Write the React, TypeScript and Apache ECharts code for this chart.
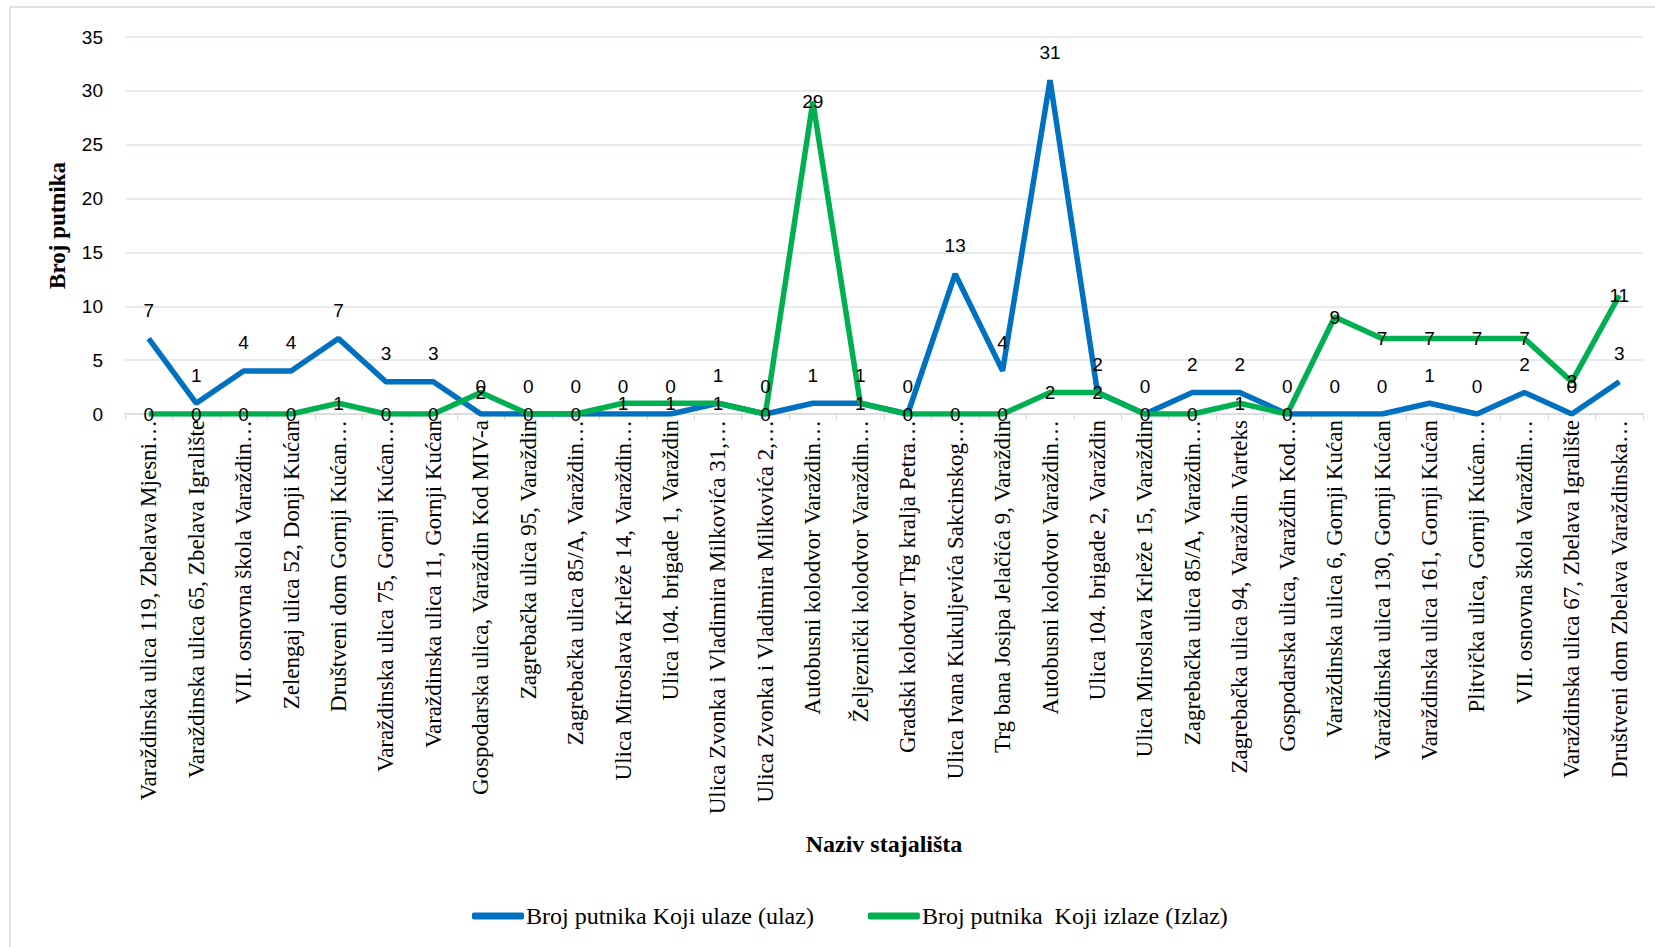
import React, { useEffect, useRef } from "react";
import * as echarts from "echarts";

const categories = [
  "Varaždinska ulica 119, Zbelava Mjesni…",
  "Varaždinska ulica 65, Zbelava Igralište",
  "VII. osnovna škola Varaždin…",
  "Zelengaj ulica 52, Donji Kućan",
  "Društveni dom Gornji Kućan…",
  "Varaždinska ulica 75, Gornji Kućan…",
  "Varaždinska ulica 11, Gornji Kućan",
  "Gospodarska ulica, Varaždin Kod MIV-a",
  "Zagrebačka ulica 95, Varaždin",
  "Zagrebačka ulica 85/A, Varaždin…",
  "Ulica Miroslava Krleže 14, Varaždin…",
  "Ulica 104. brigade 1, Varaždin",
  "Ulica Zvonka i Vladimira Milkovića 31,…",
  "Ulica Zvonka i Vladimira Milkovića 2,…",
  "Autobusni kolodvor Varaždin…",
  "Željeznički kolodvor Varaždin…",
  "Gradski kolodvor Trg kralja Petra…",
  "Ulica Ivana Kukuljevića Sakcinskog…",
  "Trg bana Josipa Jelačića 9, Varaždin",
  "Autobusni kolodvor Varaždin…",
  "Ulica 104. brigade 2, Varaždin",
  "Ulica Miroslava Krleže 15, Varaždin",
  "Zagrebačka ulica 85/A, Varaždin…",
  "Zagrebačka ulica 94, Varaždin Varteks",
  "Gospodarska ulica, Varaždin Kod…",
  "Varaždinska ulica 6, Gornji Kućan",
  "Varaždinska ulica 130, Gornji Kućan",
  "Varaždinska ulica 161, Gornji Kućan",
  "Plitvička ulica, Gornji Kućan…",
  "VII. osnovna škola Varaždin…",
  "Varaždinska ulica 67, Zbelava Igralište",
  "Društveni dom Zbelava Varaždinska…",
];

const ulaz = [7, 1, 4, 4, 7, 3, 3, 0, 0, 0, 0, 0, 1, 0, 1, 1, 0, 13, 4, 31, 2, 0, 2, 2, 0, 0, 0, 1, 0, 2, 0, 3];
const izlaz = [0, 0, 0, 0, 1, 0, 0, 2, 0, 0, 1, 1, 1, 0, 29, 1, 0, 0, 0, 2, 2, 0, 0, 1, 0, 9, 7, 7, 7, 7, 3, 11];

const seriesNames = ["Broj putnika Koji ulaze (ulaz)", "Broj putnika  Koji izlaze (Izlaz)"];
const yTitle = "Broj putnika";
const xTitle = "Naziv stajališta";

const SERIF = "'Liberation Serif', serif";
const SANS = "'Liberation Sans', sans-serif";

export default function App() {
  const ref = useRef<HTMLDivElement>(null);
  useEffect(() => {
    document.body.style.margin = "0";
    const chart = echarts.init(ref.current!, null, { renderer: "svg" });
    chart.setOption({
      animation: false,
      backgroundColor: "#fff",
      graphic: [
        {
          type: "rect",
          z: -10,
          shape: { x: 10, y: 7, width: 1700, height: 1000 },
          style: { fill: "none", stroke: "#d9d9d9", lineWidth: 1.5 },
        },
      ],
      grid: { left: 125, right: 12, top: 37, bottom: 533, containLabel: false },
      legend: {
        left: 467,
        top: 899,
        itemWidth: 52,
        itemHeight: 7,
        icon: "roundRect",
        itemGap: 54,
        textStyle: { fontFamily: SERIF, fontSize: 24, color: "#000", padding: [0, 0, 0, -3] },
        data: seriesNames,
      },
      xAxis: {
        type: "category",
        data: categories,
        boundaryGap: true,
        name: xTitle,
        nameLocation: "middle",
        nameGap: 418,
        nameTextStyle: { fontFamily: SERIF, fontSize: 24, fontWeight: "bold", color: "#000" },
        axisLine: { lineStyle: { color: "#d9d9d9", width: 1.5 } },
        axisTick: { show: true, length: 6, lineStyle: { color: "#d9d9d9" } },
        axisLabel: {
          interval: 0,
          rotate: 90,
          margin: 6,
          fontFamily: SERIF,
          fontSize: 23,
          color: "#000",
        },
      },
      yAxis: {
        type: "value",
        min: 0,
        max: 35,
        interval: 5,
        name: yTitle,
        nameLocation: "middle",
        nameRotate: 90,
        nameGap: 56,
        nameTextStyle: { fontFamily: SERIF, fontSize: 23, fontWeight: "bold", color: "#000" },
        axisLine: { show: false },
        axisTick: { show: false },
        splitLine: { lineStyle: { color: "#dfe3e8", width: 1.5 } },
        axisLabel: { fontFamily: SANS, fontSize: 19, color: "#000", margin: 22 },
      },
      series: [
        {
          name: seriesNames[0],
          type: "line",
          data: ulaz,
          color: "#0070C0",
          symbol: "circle",
          symbolSize: 1,
          lineStyle: { width: 5.5, color: "#0070C0" },
          label: {
            show: true,
            position: "top",
            distance: 18,
            fontFamily: SANS,
            fontSize: 19,
            color: "#000",
          },
        },
        {
          name: seriesNames[1],
          type: "line",
          data: izlaz,
          color: "#00B050",
          symbol: "circle",
          symbolSize: 1,
          lineStyle: { width: 5.5, color: "#00B050" },
          label: {
            show: true,
            position: "inside",
            fontFamily: SANS,
            fontSize: 19,
            color: "#000",
          },
        },
      ],
    });
    return () => chart.dispose();
  }, []);
  return <div ref={ref} style={{ width: 1655, height: 947 }} />;
}
